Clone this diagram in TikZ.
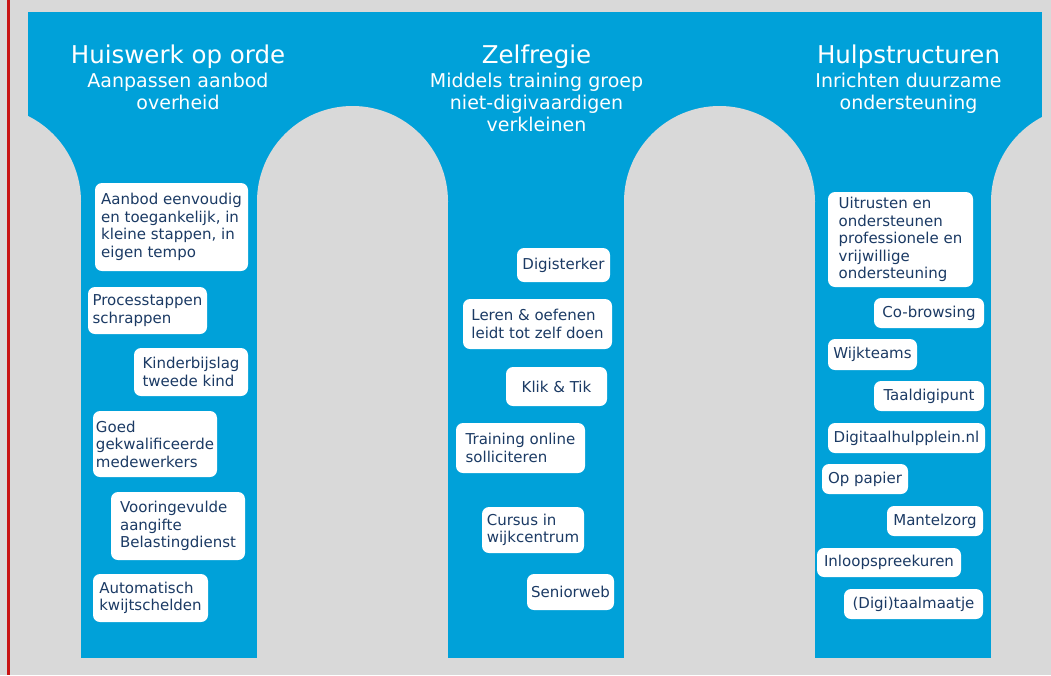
\documentclass[tikz,border=0pt]{standalone}
\usepackage{fontspec}
\setmainfont{DejaVu Sans}
\definecolor{bgray}{RGB}{217,217,217}
\definecolor{pblue}{RGB}{0,161,217}
\definecolor{navy}{RGB}{27,58,100}
\definecolor{redline}{RGB}{200,20,20}
\tikzset{
  itembox/.style={fill=white, rounded corners=7pt, text=navy, align=left, inner sep=0pt,
    font=\fontsize{15}{17.6}\selectfont},
  titletext/.style={anchor=base, text=white, inner sep=0pt, font=\fontsize{24.5}{28}\selectfont},
  subtext/.style={anchor=base, text=white, inner sep=0pt, font=\fontsize{19}{22}\selectfont},
}
\begin{document}
\begin{tikzpicture}[x=1pt,y=-1pt]
\useasboundingbox (0,0) rectangle (1051,675);
\fill[bgray] (0,0) rectangle (1051,675);
% blue body
\fill[pblue] (28,12) rectangle (1042,658);
% arches (gray cut-outs)
\foreach \cx in {-14.5,352.5,719.5,1086.5} {
  \fill[bgray] (\cx,201.5) circle[radius=95.5pt];
  \fill[bgray] (\cx-95.5,201.5) rectangle (\cx+95.5,675);
}
% margins
\fill[bgray] (0,0) rectangle (28,675);
\fill[bgray] (1042,0) rectangle (1051,675);
\fill[bgray] (0,0) rectangle (1051,12);
\fill[bgray] (0,658) rectangle (1051,675);
% red line
\draw[redline, line width=2.2pt] (8.5,0) -- (8.5,675);

% headers
\node[titletext] (t1) at (178,63) {Huiswerk op orde};
\node[subtext] (s1a) at (178,87) {Aanpassen aanbod};
\node[subtext] (s1b) at (178,109) {overheid};
\node[titletext] (t2) at (536.5,63) {Zelfregie};
\node[subtext] (s2a) at (536.5,87) {Middels training groep};
\node[subtext] (s2b) at (536.5,109) {niet-digivaardigen};
\node[subtext] (s2c) at (536.5,131) {verkleinen};
\node[titletext] (t3) at (908.5,63) {Hulpstructuren};
\node[subtext] (s3a) at (908.5,87) {Inrichten duurzame};
\node[subtext] (s3b) at (908.5,109) {ondersteuning};

% column 1
\node[itembox, minimum width=153pt, minimum height=88pt] (b1) at (171.5,227) {Aanbod eenvoudig\\en toegankelijk, in\\kleine stappen, in\\eigen tempo};
\node[itembox, minimum width=119pt, minimum height=47pt] (b2) at (147.5,310.5) {Processtappen\\schrappen};
\node[itembox, minimum width=114pt, minimum height=48pt] (b3) at (191,372) {Kinderbijslag\\tweede kind};
\node[itembox, minimum width=124pt, minimum height=66pt] (b4) at (155,444) {Goed\\gekwalificeerde\\medewerkers};
\node[itembox, minimum width=134pt, minimum height=68pt] (b5) at (178,526) {Vooringevulde\\aangifte\\Belastingdienst};
\node[itembox, minimum width=115pt, minimum height=48pt] (b6) at (150.5,598) {Automatisch\\kwijtschelden};

% column 2
\node[itembox, minimum width=93pt, minimum height=34pt] (c1) at (563.5,265) {Digisterker};
\node[itembox, minimum width=149pt, minimum height=50pt] (c2) at (537.5,324) {Leren \& oefenen\\leidt tot zelf doen};
\node[itembox, minimum width=101pt, minimum height=39pt] (c3) at (556.5,386.5) {Klik \& Tik};
\node[itembox, minimum width=129pt, minimum height=50pt] (c4) at (520.5,448) {Training online\\solliciteren};
\node[itembox, minimum width=102pt, minimum height=46pt] (c5) at (533,530) {Cursus in\\wijkcentrum};
\node[itembox, minimum width=87pt, minimum height=36pt] (c6) at (570.5,592) {Seniorweb};

% column 3
\node[itembox, minimum width=145pt, minimum height=95pt] (d1) at (900.5,239.5) {Uitrusten en\\ondersteunen\\professionele en\\vrijwillige\\ondersteuning};
\node[itembox, minimum width=110pt, minimum height=30pt] (d2) at (929,313) {Co-browsing};
\node[itembox, minimum width=89pt, minimum height=31pt] (d3) at (872.5,354.5) {Wijkteams};
\node[itembox, minimum width=110pt, minimum height=30pt] (d4) at (929,396) {Taaldigipunt};
\node[itembox, minimum width=157pt, minimum height=30pt] (d5) at (906.5,438) {Digitaalhulpplein.nl};
\node[itembox, minimum width=86pt, minimum height=30pt] (d6) at (865,479) {Op papier};
\node[itembox, minimum width=96pt, minimum height=30pt] (d7) at (935,521) {Mantelzorg};
\node[itembox, minimum width=144pt, minimum height=29pt] (d8) at (889,562.5) {Inloopspreekuren};
\node[itembox, minimum width=139pt, minimum height=30pt] (d9) at (913.5,604) {(Digi)taalmaatje};
\end{tikzpicture}
\end{document}
